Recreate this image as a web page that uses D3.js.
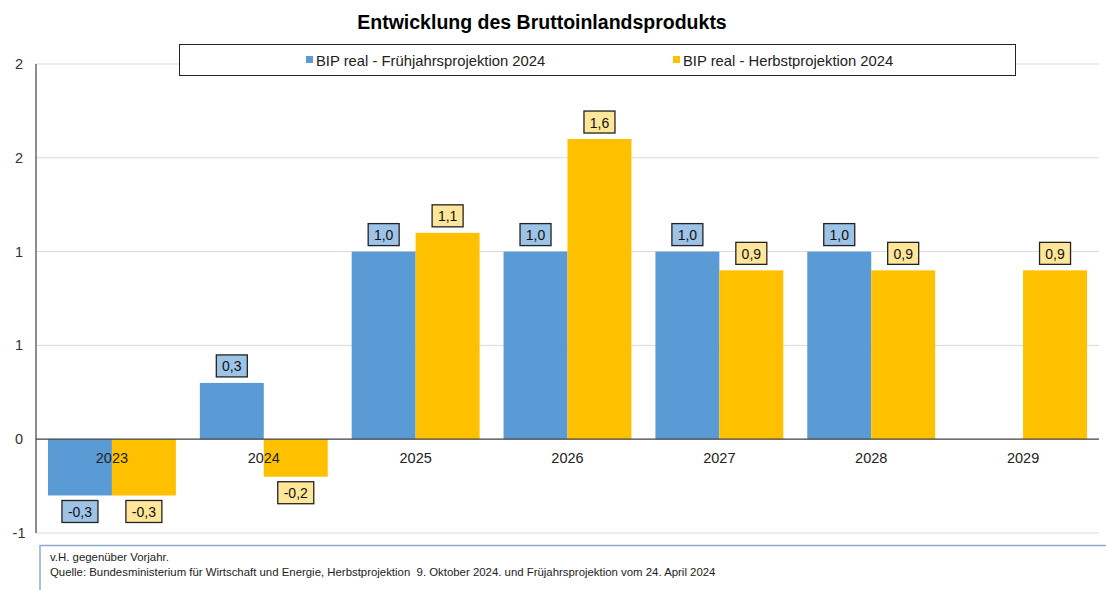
<!DOCTYPE html>
<html><head><meta charset="utf-8">
<script src="https://cdn.jsdelivr.net/npm/d3@7"></script>
<style>body{margin:0;background:#fff;font-family:"Liberation Sans",Arial,sans-serif;} text{white-space:pre;}</style>
</head><body><svg id="c" width="1106" height="590"></svg>
<script>
const categories = ["2023","2024","2025","2026","2027","2028","2029"];
const seriesNames = ["BIP real - Frühjahrsprojektion 2024","BIP real - Herbstprojektion 2024"];
const fruehjahr = [-0.3, 0.3, 1.0, 1.0, 1.0, 1.0, null];
const herbst = [-0.3, -0.2, 1.1, 1.6, 0.9, 0.9, 0.9];
const yTicks = [2, 1.5, 1, 0.5, 0, -0.5];
const yTickLabels = ["2","2","1","1","0","-1"];
const title = "Entwicklung des Bruttoinlandsprodukts";
const note1 = "v.H. gegenüber Vorjahr.";
const note2 = "Quelle: Bundesministerium für Wirtschaft und Energie, Herbstprojektion  9. Oktober 2024. und Früjahrsprojektion vom 24. April 2024";

(function(){
const colors = ["#5b9bd5","#ffc000"];
const labelFill = ["#9dc3e6","#ffe699"];
const svg = d3.select("#c");
const font = "'Liberation Sans',Arial,sans-serif";

const pL = 36, pR = 1099, pT = 64, pB = 533;
const y = d3.scaleLinear().domain([-0.5, 2]).range([pB, pT]);
const x0 = d3.scaleBand().domain(categories).range([pL, pR]).paddingInner(24/152).paddingOuter(12/152);
const x1 = d3.scaleBand().domain([0,1]).range([0, x0.bandwidth()]);

svg.append("text").attr("x", 542).attr("y", 29).attr("text-anchor","middle")
  .attr("font-family", font).attr("font-weight","bold").attr("font-size", 19.5).attr("fill","#000").text(title);

svg.append("g").selectAll("line").data(yTicks.filter(d=>d!==0)).join("line")
  .attr("x1", pL).attr("x2", pR).attr("y1", d=>y(d)).attr("y2", d=>y(d))
  .attr("stroke","#d9d9d9").attr("stroke-width",1);

svg.append("g").selectAll("text").data(yTicks).join("text")
  .attr("x", 19).attr("y", d=>y(d)+5).attr("text-anchor","middle")
  .attr("font-family", font).attr("font-size", 14.5).attr("fill","#333")
  .text((d,i)=>yTickLabels[i]);

const series = [fruehjahr, herbst];
series.forEach((vals, s) => {
  const data = categories.map((c,i)=>({c, v: vals[i]})).filter(d=>d.v!==null);
  svg.append("g").selectAll("rect").data(data).join("rect")
    .attr("x", d=>x0(d.c)+x1(s)).attr("width", x1.bandwidth())
    .attr("y", d=>y(Math.max(0,d.v))).attr("height", d=>Math.abs(y(d.v)-y(0)))
    .attr("fill", colors[s]);
});

svg.append("line").attr("x1", pL).attr("x2", pR).attr("y1", y(0)).attr("y2", y(0)).attr("stroke","#404040").attr("stroke-width",1.2);
svg.append("line").attr("x1", pL).attr("x2", pL).attr("y1", pT).attr("y2", pB).attr("stroke","#404040").attr("stroke-width",1.2);

svg.append("g").selectAll("text").data(categories).join("text")
  .attr("x", d=>x0(d)+x0.bandwidth()/2).attr("y", y(0)+24).attr("text-anchor","middle")
  .attr("font-family", font).attr("font-size", 14.5).attr("fill","#222").text(d=>d);

const fmt = v => d3.format(".1f")(v).replace(".",",").replace("−","-");
series.forEach((vals, s) => {
  const data = categories.map((c,i)=>({c, v: vals[i]})).filter(d=>d.v!==null);
  const g = svg.append("g").selectAll("g").data(data).join("g")
    .attr("transform", d=>{
      const cx = x0(d.c)+x1(s)+x1.bandwidth()/2;
      const cy = d.v>=0 ? y(d.v)-6-11 : y(d.v)+5+11;
      return `translate(${cx},${cy})`;
    });
  g.append("rect").attr("x", d=> d.v<0 ? -18 : -15.5).attr("y",-11).attr("width", d=> d.v<0 ? 36 : 31).attr("height",22)
    .attr("fill", labelFill[s]).attr("stroke","#222").attr("stroke-width",1.3);
  g.append("text").attr("x",0).attr("y",5.5).attr("text-anchor","middle")
    .attr("font-family", font).attr("font-size", 14).attr("fill","#111").text(d=>fmt(d.v));
});

svg.append("rect").attr("x",179.5).attr("y",44.5).attr("width",836).attr("height",31)
  .attr("fill","#fff").attr("stroke","#222").attr("stroke-width",1);
const legX = [306, 673];
seriesNames.forEach((n,i)=>{
  svg.append("rect").attr("x", legX[i]).attr("y", 56).attr("width",7).attr("height",7).attr("fill", colors[i]);
  svg.append("text").attr("x", legX[i]+10).attr("y", 65.5).attr("font-family", font).attr("font-size",14.8).attr("fill","#222").text(n);
});

svg.append("path").attr("d","M40,590 V545.5 H1106").attr("fill","none").attr("stroke","#8eaacb").attr("stroke-width",1.5);
svg.append("text").attr("x",50).attr("y",561).attr("font-family", font).attr("font-size",11.4).attr("fill","#222").text(note1);
svg.append("text").attr("x",50).attr("y",576).attr("font-family", font).attr("font-size",11.4).attr("fill","#222").text(note2);
})();
</script></body></html>
